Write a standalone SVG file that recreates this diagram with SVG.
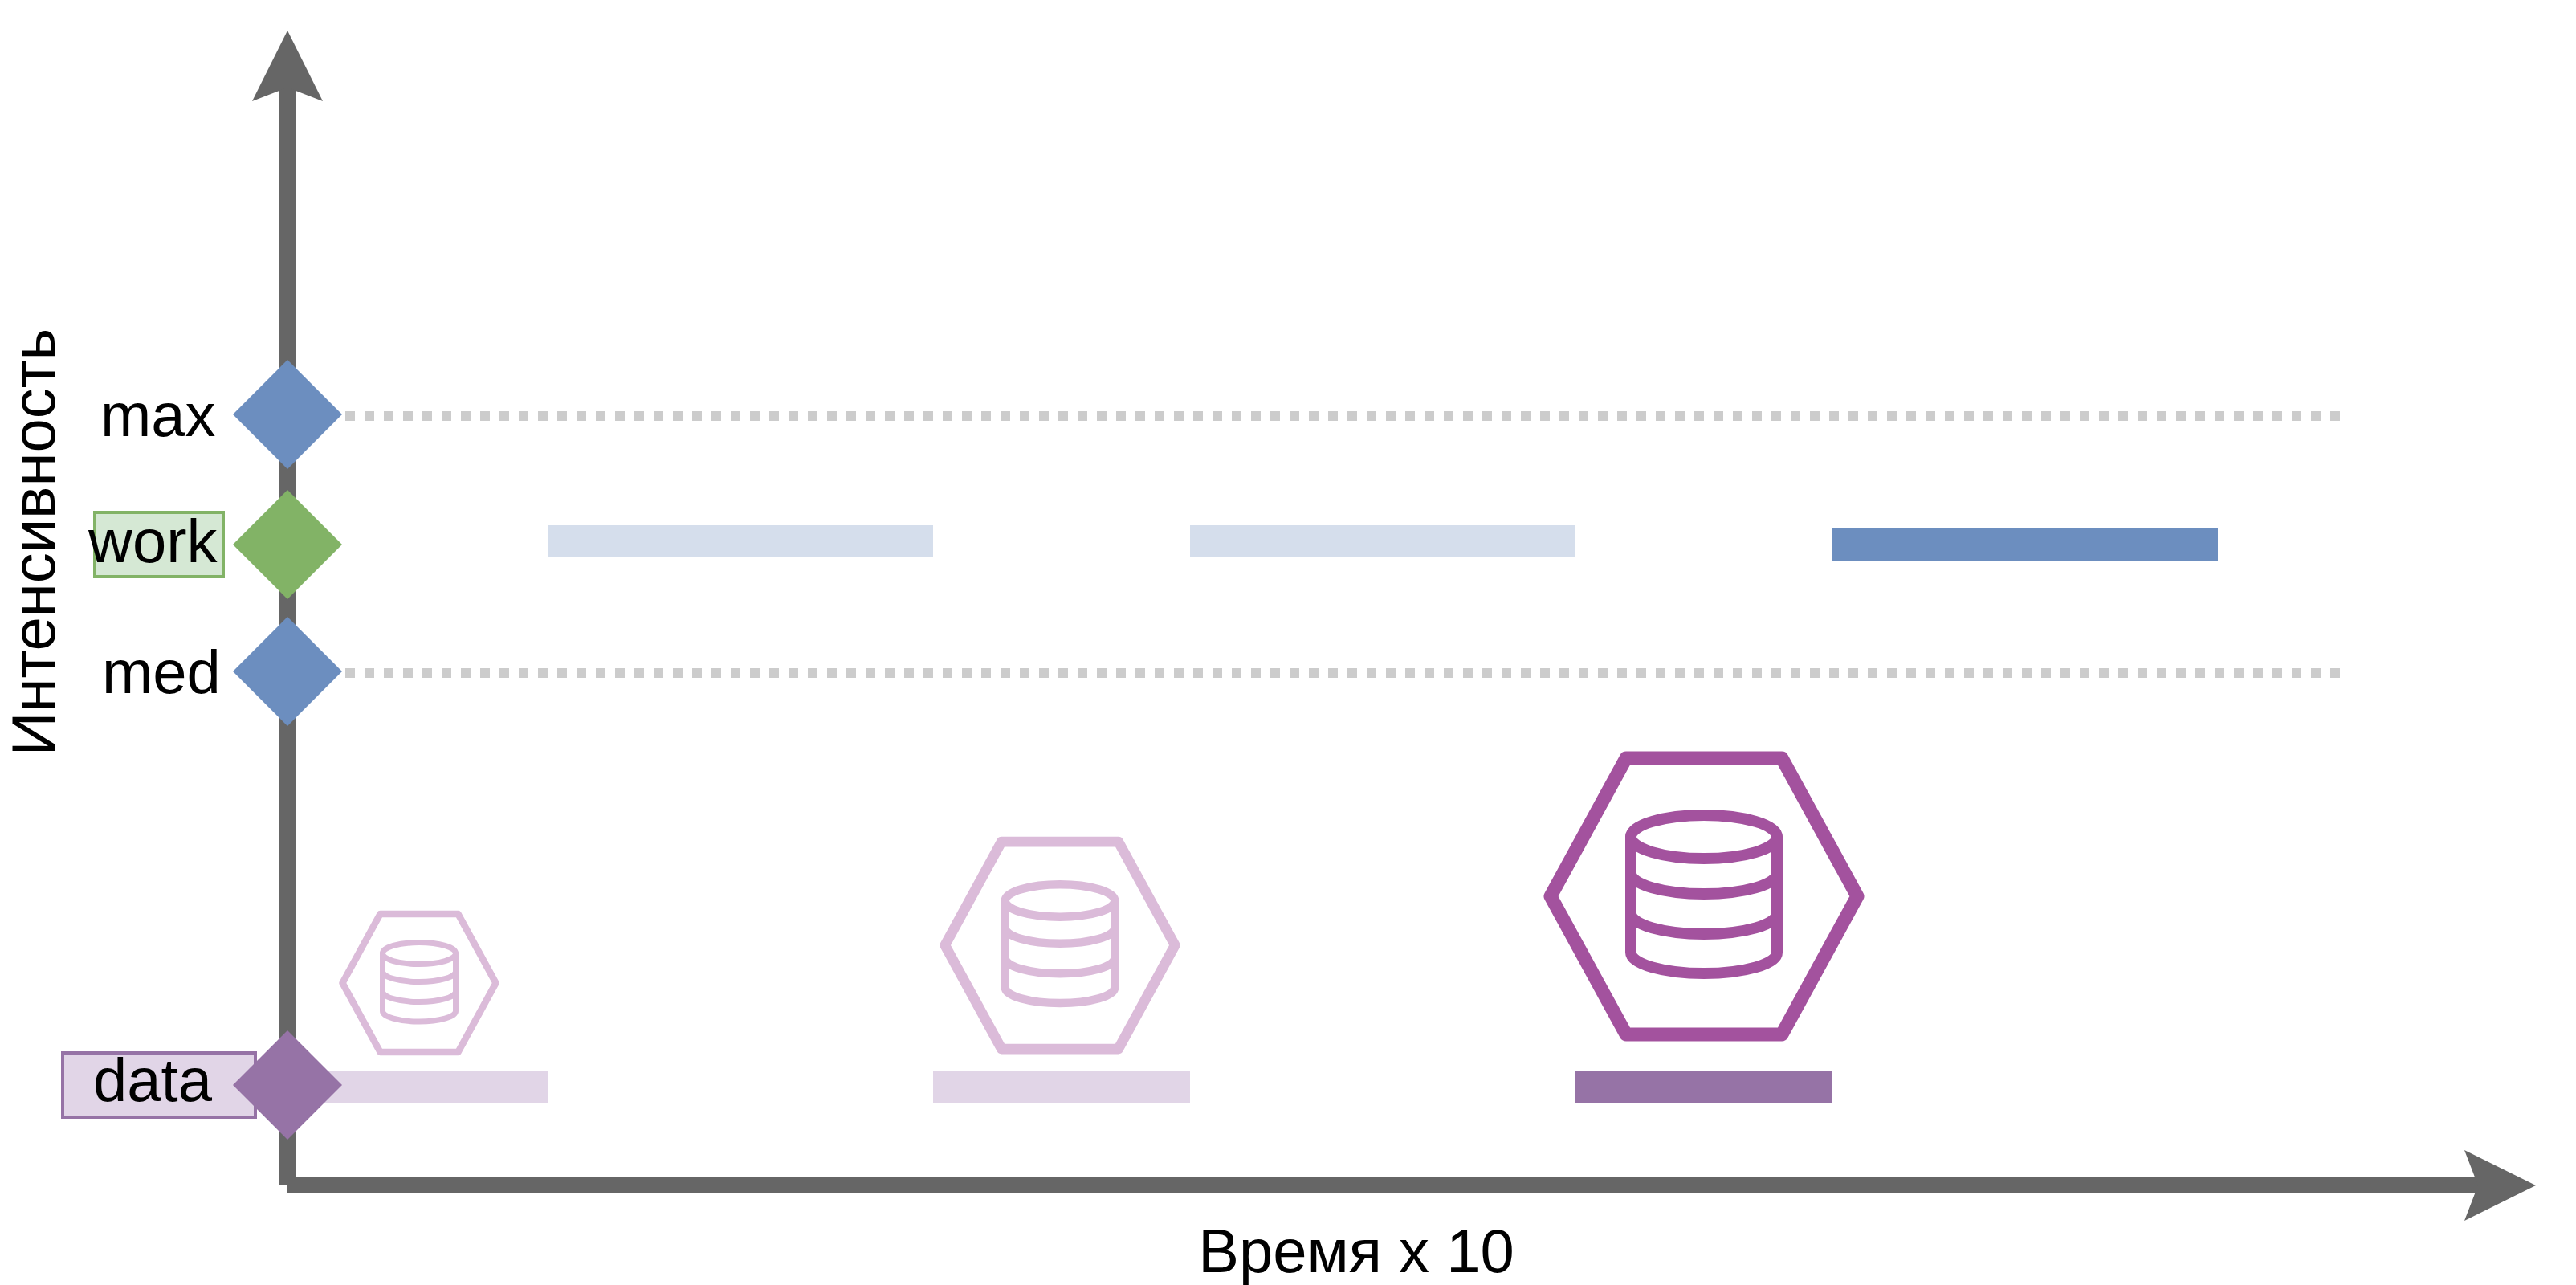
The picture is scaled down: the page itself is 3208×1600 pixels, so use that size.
<svg xmlns="http://www.w3.org/2000/svg" width="3208" height="1600" viewBox="0 0 3208 1600">
<style>
text{font-family:"Liberation Sans",Arial,sans-serif;font-size:76px;fill:#000}
.axis{fill:#666}
.dot{fill:none;stroke:#ccc;stroke-width:12;stroke-dasharray:12 12}
.blue{fill:#6c8ebf}.green{fill:#82b366}.purple{fill:#9673a6}
.ico{fill:none;stroke-linejoin:round;stroke-linecap:round}
.lb{fill:#d5deec}.lp{fill:#e1d5e7}
</style>
<defs>
<g id="db" class="ico">
<path stroke-width="17" d="M-97-172H97L191 0 97 172H-97L-191 0Z"/>
<g stroke-width="14">
<ellipse cx="0" cy="-74" rx="91" ry="27"/>
<path d="M-91-74V70M91-74V70M-91-29a91 26 0 0 0 182 0M-91 21a91 26 0 0 0 182 0M-91 70a91 26 0 0 0 182 0"/>
</g>
</g>
</defs>
<g id="connectors">
<rect class="axis" x="348" y="100" width="20" height="1376"/>
<path class="axis" d="M358 38L402 126 358 109 314 126Z"/>
<rect class="axis" x="358" y="1466" width="2740" height="20"/>
<path class="axis" d="M3158 1476L3069 1520 3086 1476 3069 1432Z"/>
<path class="dot" d="M430 518H2916"/>
<path class="dot" d="M430 838H2916"/>
</g>
<g id="bars">
<rect class="lb" x="682" y="654" width="480" height="40"/>
<rect class="lb" x="1482" y="654" width="480" height="40"/>
<rect class="blue" x="2282" y="658" width="480" height="40"/>
<rect class="lp" x="362" y="1334" width="320" height="40"/>
<rect class="lp" x="1162" y="1334" width="320" height="40"/>
<rect class="purple" x="1962" y="1334" width="320" height="40"/>
</g>
<g id="icon-small"><use href="#db" transform="translate(522 1224) scale(.5)" stroke="#dbbbd9"/></g>
<g id="icon-medium"><use href="#db" transform="translate(1320 1177) scale(.75)" stroke="#dbbbd9"/></g>
<g id="icon-large"><use href="#db" transform="translate(2122 1116)" stroke="#a3529e"/></g>
<g id="node-max"><path class="blue" d="M358 448L426 516 358 584 290 516Z"/><text x="125" y="543">max</text></g>
<g id="node-work"><rect x="118" y="638" width="160" height="80" fill="#d5e8d4" stroke="#82b366" stroke-width="4"/><path class="green" d="M358 610L426 678 358 746 290 678Z"/><text x="110" y="700">work</text></g>
<g id="node-med"><path class="blue" d="M358 768L426 836 358 904 290 836Z"/><text x="127" y="863">med</text></g>
<g id="node-data"><rect x="78" y="1311" width="240" height="80" fill="#e1d5e7" stroke="#9673a6" stroke-width="4"/><path class="purple" d="M358 1283L426 1351 358 1419 290 1351Z"/><text x="116" y="1371">data</text></g>
<text id="y-label" transform="translate(68 675) rotate(-90)" text-anchor="middle">Интенсивность</text>
<text id="x-label" x="1689" y="1584" text-anchor="middle">Время x 10</text>
</svg>
